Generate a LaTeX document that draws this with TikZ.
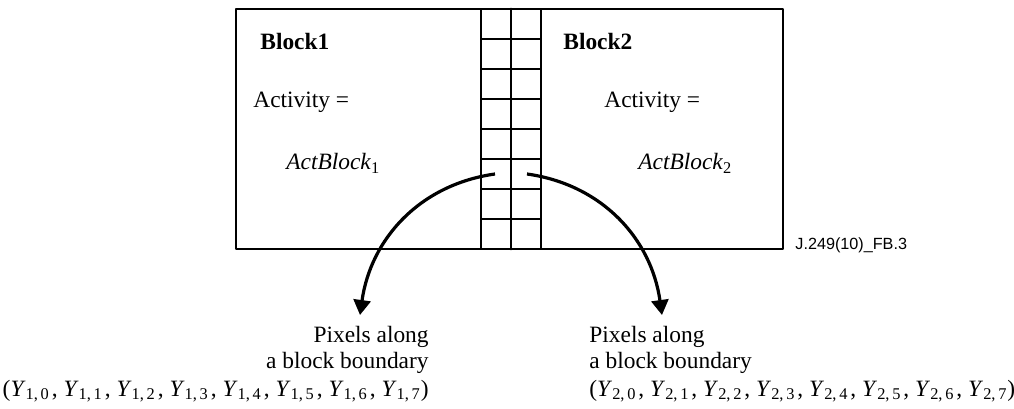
\documentclass[tikz,border=0pt]{standalone}
\usepackage{fontspec}
\setmainfont{Liberation Serif}
\newfontfamily\labelfont{Liberation Sans}
\usepackage{tkz-euclide}
\usetikzlibrary{arrows.meta}
\newcommand\ysub[2]{\textit{Y}\textsubscript{#1,\,#2}}
\newcommand\ytuple[1]{(\ysub{#1}{0}\kern1pt, \ysub{#1}{1}\kern1pt, \ysub{#1}{2}\kern1pt, \ysub{#1}{3}\kern1pt, \ysub{#1}{4}\kern1pt, \ysub{#1}{5}\kern1pt, \ysub{#1}{6}\kern1pt, \ysub{#1}{7})}

\begin{document}
\begin{tikzpicture}[x=0.5pt,y=0.5pt,
  txt/.style={inner sep=0pt,font=\fontsize{11.7}{13.5}\selectfont},
  head/.style={inner sep=0pt,font=\fontsize{11.7}{13.5}\selectfont\bfseries},
  pix/.style={-{Triangle[length=7.5pt,width=8.5pt]},line width=1.6pt}]
  \useasboundingbox (0,0) rectangle (1014,408);
  \tkzDefPoints{236/159/A,783/159/B,783/399/C,236/399/D,511/159/M,511/399/N}
  \tkzDrawPolygon[line width=1.4pt](A,B,C,D)
  \tkzDrawSegment[line width=1.4pt](M,N)

  % pixels on each side of the boundary
  \foreach \y in {189,219,...,369}
    \draw[line width=0.8pt] (481,\y) -- (541,\y);
  \foreach \x in {481,541}
    \draw[line width=0.8pt] (\x,159) -- (\x,399);

  \node[head,anchor=base west] (b1) at (260,358) {Block1};
  \node[txt,anchor=base west] (act1) at (253,300) {Activity =};
  \node[txt,anchor=base west] (ab1) at (286,238) {\textit{ActBlock}\textsubscript{1}};

  \node[head,anchor=base west] (b2) at (563,358) {Block2};
  \node[txt,anchor=base west] (act2) at (604,300) {Activity =};
  \node[txt,anchor=base west] (ab2) at (638,238) {\textit{ActBlock}\textsubscript{2}};

  \node[anchor=base west,inner sep=0pt,font=\labelfont\fontsize{8.1}{10}\selectfont] (fig) at (795,159) {J.249(10)\_FB.3};

  \node[txt,anchor=base east,align=right] (pix1) at (429,12) {Pixels along\\a block boundary\\\ytuple{1}};
  \node[txt,anchor=base west,align=left] (pix2) at (589,12) {Pixels along\\a block boundary\\\ytuple{2}};

  \coordinate (s1) at (495,234);
  \coordinate (s2) at (527,234);
  \coordinate (t1) at (360,93);
  \coordinate (t2) at (662,93);
  \draw[pix] (s1) to[out=188,in=82] (t1);
  \draw[pix] (s2) to[out=-8,in=98] (t2);
\end{tikzpicture}
\end{document}
